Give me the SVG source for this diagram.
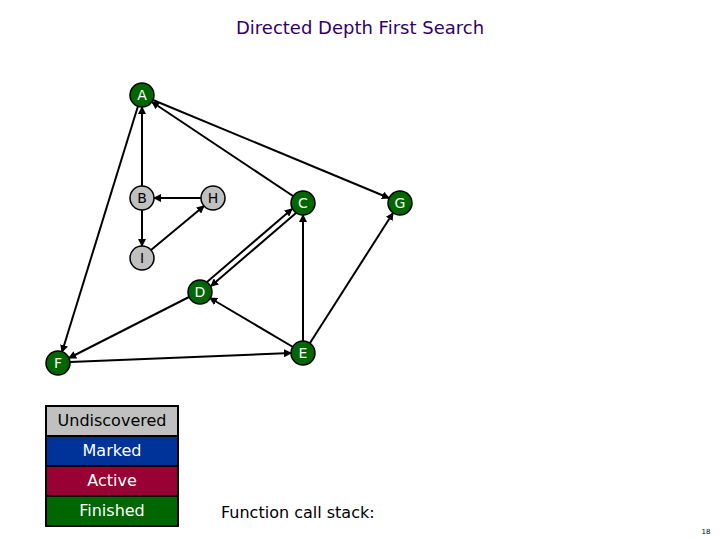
<svg xmlns="http://www.w3.org/2000/svg" width="720" height="540" viewBox="0 0 720 540">
<style>
text{font-family:"DejaVu Sans","Liberation Sans",sans-serif}
.fin circle{fill:#006600;stroke:#000;stroke-width:1.5}
.fin text{fill:#fff;font-size:14px;text-anchor:middle}
.und circle{fill:#c0c0c0;stroke:#000;stroke-width:1.5}
.und text{fill:#000;font-size:14px;text-anchor:middle}
.e{stroke:#000;stroke-width:2;fill:none;marker-end:url(#ah)}
.lg rect{stroke:#000;stroke-width:2}
.lg text{font-size:16px;text-anchor:middle}
</style>
<defs><marker id="ah" markerWidth="8" markerHeight="8" refX="7" refY="4" orient="auto" markerUnits="userSpaceOnUse"><path d="M0,0 L8,4 L0,8 z" fill="#000"/></marker></defs>
<rect width="720" height="540" fill="#fff"/>
<text x="360" y="34" font-size="18" text-anchor="middle" fill="#330066">Directed Depth First Search</text>
<g id="edges">
<path class="e" d="M142,186 L142,107"/>
<path class="e" d="M201,198 L154,198"/>
<path class="e" d="M142,210 L142,246"/>
<path class="e" d="M151,250 L204,206"/>
<path class="e" d="M293,196 L152,102"/>
<path class="e" d="M153,100 L389,198"/>
<path class="e" d="M138,106 L62,352"/>
<path class="e" d="M207,282 L292,209"/>
<path class="e" d="M296,213 L211,286"/>
<path class="e" d="M293,347 L210,298"/>
<path class="e" d="M303,341 L303,215"/>
<path class="e" d="M310,343 L393,213"/>
<path class="e" d="M189,297 L69,358"/>
<path class="e" d="M70,362 L291,353"/>
</g>
<g id="A" class="fin"><circle cx="142" cy="95" r="12"/><text x="142" y="100">A</text></g>
<g id="B" class="und"><circle cx="142" cy="198" r="12"/><text x="142" y="203">B</text></g>
<g id="H" class="und"><circle cx="213" cy="198" r="12"/><text x="213" y="203">H</text></g>
<g id="C" class="fin"><circle cx="303" cy="203" r="12"/><text x="303" y="208">C</text></g>
<g id="G" class="fin"><circle cx="400" cy="203" r="12"/><text x="400" y="208">G</text></g>
<g id="I" class="und"><circle cx="142" cy="258" r="12"/><text x="142" y="263">I</text></g>
<g id="D" class="fin"><circle cx="200" cy="292" r="12"/><text x="200" y="297">D</text></g>
<g id="E" class="fin"><circle cx="303" cy="353" r="12"/><text x="303" y="358">E</text></g>
<g id="F" class="fin"><circle cx="58" cy="363" r="12"/><text x="58" y="368">F</text></g>
<g id="legend" class="lg">
<rect x="46" y="406" width="132" height="30" fill="#c0c0c0"/><text x="112" y="426" fill="#000">Undiscovered</text>
<rect x="46" y="436" width="132" height="30" fill="#003399"/><text x="112" y="456" fill="#fff">Marked</text>
<rect x="46" y="466" width="132" height="30" fill="#990033"/><text x="112" y="486" fill="#fff">Active</text>
<rect x="46" y="496" width="132" height="30" fill="#006600"/><text x="112" y="516" fill="#fff">Finished</text>
</g>
<text x="221" y="518" font-size="16" fill="#000">Function call stack:</text>
<text x="706" y="534" font-size="7" text-anchor="middle" fill="#000">18</text>
</svg>
